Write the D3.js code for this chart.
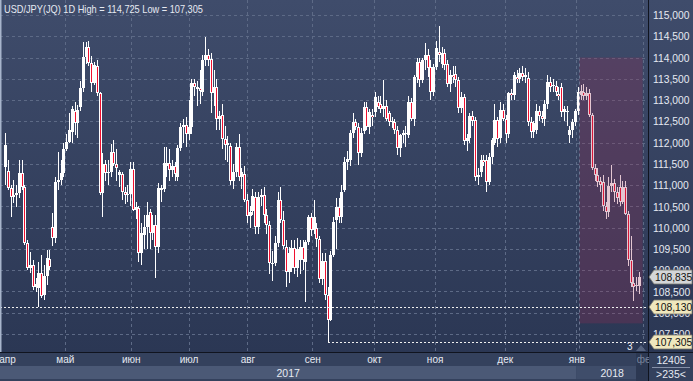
<!DOCTYPE html>
<html><head><meta charset="utf-8">
<script src="https://cdn.jsdelivr.net/npm/d3@7"></script>
<style>html,body{margin:0;padding:0;background:#2e3b57;overflow:hidden}svg{display:block}text{font-family:"Liberation Sans",Arial,sans-serif}</style>
</head><body><svg id="c" width="693" height="381"></svg>
<script>
const open=[111.43,111.33,110.93,110.72,110.77,110.82,111.29,110.96,109.64,109.05,109.12,108.60,108.58,108.93,108.42,108.86,109.26,110.02,109.76,111.07,111.12,111.29,111.85,112.02,112.25,112.74,112.46,112.84,113.28,114.01,114.25,113.87,113.40,113.80,113.17,110.82,111.50,111.28,111.31,111.78,111.50,111.25,111.26,110.84,110.77,110.80,111.38,110.42,110.46,109.40,109.83,110.02,110.37,109.87,110.06,109.55,110.88,110.90,111.45,111.52,111.35,111.45,111.19,111.87,112.37,112.42,112.20,112.36,113.40,113.25,113.28,113.19,113.94,114.06,113.97,113.17,113.31,112.55,112.65,112.09,111.94,111.92,111.10,111.31,111.90,111.20,111.26,110.65,110.27,110.40,110.72,110.02,110.72,110.77,110.30,110.06,109.17,109.17,109.64,110.65,110.18,109.55,108.96,109.05,109.52,109.05,109.24,109.55,109.20,109.66,110.25,109.95,110.00,109.73,108.80,109.22,108.42,107.83,109.36,110.18,110.49,110.25,110.88,111.54,111.59,112.23,112.48,112.37,111.76,112.27,112.83,112.37,112.65,112.72,112.95,112.90,112.78,112.86,112.70,112.48,112.48,112.30,111.87,112.18,112.22,112.18,112.95,112.55,113.54,113.89,113.47,113.94,114.06,113.78,113.19,113.78,114.12,113.85,114.10,113.85,113.37,113.60,113.62,113.47,112.81,113.07,112.04,112.10,112.62,112.53,111.19,111.30,111.60,111.60,111.07,111.65,112.00,112.53,112.10,112.77,112.55,112.20,113.17,113.12,113.55,113.50,113.64,113.55,113.52,112.48,112.25,112.30,112.75,112.62,112.55,112.90,113.42,113.35,113.32,113.15,113.30,112.72,112.72,112.18,112.30,112.48,112.75,113.12,113.20,113.10,113.17,112.64,111.40,111.24,111.10,111.07,110.50,110.38,110.97,111.05,110.85,110.95,110.60,110.95,110.33,109.24,108.70,108.62,108.62];
const high=[112.23,111.59,111.00,111.12,111.00,111.59,111.59,111.00,109.71,109.43,109.24,108.82,109.19,109.36,109.12,109.47,109.47,110.34,111.19,111.78,111.59,112.00,112.20,112.70,112.85,112.95,112.88,113.45,114.37,114.37,114.40,114.03,113.90,113.95,113.20,111.75,111.60,111.60,111.96,112.05,111.85,111.35,111.30,110.95,111.00,111.55,111.55,110.60,110.50,110.10,110.30,110.60,110.45,110.30,110.30,111.05,111.00,111.90,111.90,111.85,111.60,111.55,111.95,112.45,112.55,112.60,113.00,113.50,113.50,113.45,113.70,114.05,114.49,114.20,114.10,113.70,113.50,112.75,112.90,112.40,112.15,112.00,111.50,112.00,112.20,111.40,111.45,110.80,110.50,110.90,110.85,110.85,110.90,110.95,110.45,110.15,109.45,109.80,110.85,110.95,110.40,109.70,109.55,109.70,109.70,109.75,109.70,109.70,109.70,110.30,110.35,110.65,110.10,109.80,109.40,109.40,108.60,109.45,110.25,110.70,110.70,111.00,111.65,111.80,112.30,112.70,112.55,112.45,112.35,112.95,112.95,112.80,112.80,113.20,113.10,113.10,113.47,113.00,112.75,112.60,112.55,112.40,112.20,112.30,112.40,113.10,113.05,113.60,114.00,114.00,114.00,114.35,114.20,113.95,113.85,114.40,114.73,114.25,114.20,113.95,113.70,113.80,113.80,113.55,113.20,113.15,112.20,112.70,112.75,112.60,111.40,111.70,111.70,111.70,111.75,112.10,112.90,112.60,112.95,112.90,112.65,113.20,113.25,113.65,113.70,113.75,113.80,113.75,113.65,112.60,112.50,112.90,112.85,112.75,113.00,113.60,113.55,113.50,113.45,113.30,113.40,112.85,112.85,112.40,112.55,112.80,113.30,113.35,113.38,113.30,113.25,112.70,111.50,111.40,111.20,111.25,110.60,111.20,111.47,111.15,110.95,111.25,111.10,111.10,110.40,109.80,108.85,108.85,108.95];
const low=[111.00,110.89,110.25,110.58,110.49,110.70,110.89,109.59,109.00,108.93,108.53,108.49,108.13,108.35,108.30,108.65,109.00,109.57,109.64,110.89,111.00,111.20,111.80,111.98,112.00,112.18,112.10,112.75,113.20,113.85,113.80,113.20,113.35,113.10,110.77,110.24,111.10,111.00,111.20,111.45,111.10,110.95,110.65,110.55,110.60,110.50,110.40,110.20,109.19,109.12,109.50,109.50,109.50,109.70,108.82,109.40,110.60,110.85,111.20,111.10,111.20,111.10,111.10,111.80,112.00,111.90,112.05,112.20,113.10,112.85,112.90,113.10,113.80,113.80,112.70,112.85,112.30,112.30,111.85,111.60,111.55,111.00,110.90,111.20,111.10,110.90,110.60,110.10,110.00,110.30,109.85,109.85,110.50,110.10,109.85,108.90,108.75,109.10,109.55,110.10,109.50,108.60,108.70,108.95,108.90,108.85,108.90,109.00,108.26,109.60,109.80,109.85,109.55,108.70,108.65,108.30,107.31,107.80,109.30,109.50,110.10,110.10,110.85,111.35,111.45,112.10,112.30,111.47,111.65,112.20,112.30,112.20,112.40,112.60,112.80,112.70,112.60,112.50,112.40,112.35,112.20,111.70,111.65,112.00,111.90,112.10,112.50,112.40,113.40,113.30,113.40,113.70,113.55,113.00,113.10,113.70,113.90,113.75,113.70,113.30,113.20,113.40,113.30,112.70,112.70,111.95,111.80,112.00,112.40,111.10,111.00,111.20,111.45,110.85,111.00,111.50,111.95,111.90,112.00,112.50,111.99,112.10,113.00,113.00,113.40,113.40,113.45,113.40,112.40,112.10,112.10,112.20,112.50,112.45,112.40,112.80,113.20,113.20,113.10,113.00,112.60,112.50,112.40,112.00,112.10,112.40,112.65,113.00,113.00,113.00,112.60,111.35,111.10,110.95,110.85,110.40,110.20,110.25,110.85,110.60,110.55,110.50,110.55,110.30,109.10,108.60,108.28,108.50,108.45];
const close=[111.94,110.93,110.72,110.77,110.82,111.29,110.96,109.64,109.05,109.12,108.60,108.67,108.93,108.39,108.86,109.29,109.08,109.76,111.07,111.12,111.29,111.85,112.02,112.29,112.79,112.46,112.77,113.28,114.01,114.25,113.87,113.40,113.82,113.17,110.82,111.50,111.28,111.31,111.78,111.50,111.40,111.30,110.84,110.77,110.80,111.38,110.42,110.48,109.40,109.87,110.02,110.30,109.87,110.06,109.55,110.93,110.93,111.52,111.52,111.35,111.45,111.27,111.87,112.37,112.42,112.20,112.36,113.40,113.31,113.30,113.22,113.94,114.06,113.95,113.17,113.31,112.55,112.62,112.09,111.94,111.98,111.10,111.31,111.90,111.20,111.30,110.65,110.27,110.37,110.75,110.02,110.72,110.77,110.30,110.06,109.17,109.15,109.64,110.65,110.18,109.57,108.96,109.41,109.52,109.05,109.50,109.55,109.24,109.66,110.25,109.95,110.25,109.73,108.80,109.22,108.42,107.83,109.36,110.13,110.49,110.25,110.84,111.54,111.61,112.23,112.48,112.37,111.76,112.23,112.83,112.37,112.72,112.60,113.07,112.83,112.78,112.86,112.55,112.48,112.50,112.30,111.87,112.18,112.22,112.20,112.95,112.55,113.54,113.89,113.47,113.94,114.06,113.76,113.19,113.78,114.22,114.05,114.10,113.82,113.37,113.60,113.55,113.47,112.81,113.07,112.04,112.10,112.62,112.50,111.19,111.25,111.60,111.55,111.07,111.65,112.06,112.53,112.08,112.77,112.55,112.20,113.17,113.12,113.59,113.50,113.64,113.55,113.58,112.48,112.25,112.45,112.75,112.62,112.55,112.90,113.42,113.30,113.32,113.20,113.10,112.72,112.78,112.75,112.30,112.48,112.75,113.19,113.22,113.10,113.17,112.64,111.40,111.24,111.07,111.00,110.50,110.38,110.97,111.05,110.85,110.70,110.60,110.95,110.33,109.24,108.70,108.60,108.65,108.835];
open[207]=113.12;
const yTicks=[107.5,108,108.5,109,109.5,110,110.5,111,111.5,112,112.5,113,113.5,114,114.5,115];
const monthLabels=["апр","май","июн","июл","авг","сен","окт","ноя","дек","янв","фе"];
const monthTickIdx=[0.7,21.5,45.2,66,87.2,110.5,132.7,154.5,179.7,205.5,229.5];
const yearLabels=["2017","2018"];
const markLevels=[108.130,107.305];
const lastPrice=108.835;
const zoneStart=206.5, zoneEnd=229.3, zoneTop=114.0, zoneBottom=107.75;

const W=693,H=381,PR=648,PB=352;
const svg=d3.select("#c");
const defs=svg.append("defs");
const g1=defs.append("linearGradient").attr("id","bg").attr("x1",0).attr("y1",0).attr("x2",0).attr("y2",1);
g1.append("stop").attr("offset","0").attr("stop-color","#3f4c6b");
g1.append("stop").attr("offset","1").attr("stop-color","#2b3754");
defs.append("clipPath").attr("id","pc").append("rect").attr("x",0).attr("y",0).attr("width",PR).attr("height",PB);

svg.append("rect").attr("width",W).attr("height",H).attr("fill","#2e3b57");
svg.append("rect").attr("x",0).attr("y",0).attr("width",PR).attr("height",PB).attr("fill","url(#bg)");
svg.append("rect").attr("x",PR+1).attr("y",0).attr("width",W-PR-1).attr("height",PB).attr("fill","url(#bg)");

const N=close.length;
const x=d3.scaleLinear().domain([0,N-1]).range([5,639]);
const y=d3.scaleLinear().domain([107.5,115]).range([334,15]);
const fmt=d3.formatLocale({decimal:",",thousands:" ",grouping:[3],currency:["",""]}).format(".3f");
const px=i=>Math.round(x(i));

const plot=svg.append("g").attr("clip-path","url(#pc)");
plot.selectAll("line.h").data(yTicks).join("line")
  .attr("x1",0).attr("x2",PR).attr("y1",d=>Math.round(y(d))+0.5).attr("y2",d=>Math.round(y(d))+0.5)
  .attr("stroke","#5d6a86").attr("stroke-dasharray","3,3");
plot.selectAll("line.v").data(monthTickIdx.slice(1)).join("line")
  .attr("x1",d=>Math.round(x(d))+0.5).attr("x2",d=>Math.round(x(d))+0.5).attr("y1",0).attr("y2",PB)
  .attr("stroke","#5d6a86").attr("stroke-dasharray","3,3");

const idx=d3.range(N);
const cg=plot.append("g").attr("shape-rendering","crispEdges");
cg.selectAll("rect.w").data(idx).join("rect")
  .attr("x",i=>px(i)).attr("width",1)
  .attr("y",i=>Math.round(y(high[i]))).attr("height",i=>Math.max(1,Math.round(y(low[i]))-Math.round(y(high[i]))))
  .attr("fill","#ffffff");
cg.selectAll("rect.b").data(idx).join("rect")
  .attr("x",i=>px(i)-1).attr("width",3)
  .attr("y",i=>Math.round(y(Math.max(open[i],close[i]))))
  .attr("height",i=>Math.max(1,Math.round(y(Math.min(open[i],close[i])))-Math.round(y(Math.max(open[i],close[i])))))
  .attr("fill","#ffffff");
cg.selectAll("rect.r").data(idx.filter(i=>close[i]<open[i] && y(close[i])-y(open[i])>2)).join("rect")
  .attr("x",i=>px(i)).attr("width",1)
  .attr("y",i=>Math.round(y(open[i]))+1)
  .attr("height",i=>Math.max(1,Math.round(y(close[i]))-Math.round(y(open[i]))-2))
  .attr("fill","#f0102f");

plot.append("rect").attr("x",x(zoneStart)).attr("width",x(zoneEnd)-x(zoneStart))
  .attr("y",y(zoneTop)).attr("height",y(zoneBottom)-y(zoneTop))
  .attr("fill","rgba(150,45,85,0.27)");
plot.append("line").attr("x1",Math.round(x(zoneStart))+0.5).attr("x2",Math.round(x(zoneStart))+0.5).attr("y1",y(zoneTop)).attr("y2",PB)
  .attr("stroke","#6a7590").attr("stroke-dasharray","3,3");

plot.append("line").attr("x1",0).attr("x2",PR).attr("y1",Math.round(y(markLevels[0]))+0.5).attr("y2",Math.round(y(markLevels[0]))+0.5)
  .attr("stroke","#f0f0f0").attr("stroke-dasharray","2,2");
plot.append("line").attr("x1",px(116)).attr("x2",PR).attr("y1",Math.round(y(markLevels[1]))+0.5).attr("y2",Math.round(y(markLevels[1]))+0.5)
  .attr("stroke","#f0f0f0").attr("stroke-dasharray","2,2");
plot.append("text").attr("x",627).attr("y",350).attr("fill","#e8ecf4").attr("font-size",10).text("3");
plot.append("path").attr("d","M636,351 L641,345 L646,351 Z").attr("fill","#56637f");

svg.append("rect").attr("x",0).attr("y",0).attr("width",1.5).attr("height",PB).attr("fill","#a8b5cc");
svg.append("line").attr("x1",PR+0.5).attr("x2",PR+0.5).attr("y1",0).attr("y2",H).attr("stroke","#10141f");

svg.append("text").attr("x",4).attr("y",13).attr("fill","#e6eaf2").attr("font-size",10.5)
  .attr("textLength",199).attr("lengthAdjust","spacingAndGlyphs")
  .text("USD/JPY(JQ) 1D High = 114,725 Low = 107,305");

const ya=d3.axisRight(y).tickValues(yTicks).tickFormat(fmt).tickSize(0).tickPadding(0);
const yg=svg.append("g").attr("transform",`translate(653,0)`).call(ya);
yg.select(".domain").remove();
yg.selectAll("text").attr("fill","#e6eaf2").attr("font-size",10.3).attr("font-family","Liberation Sans,Arial,sans-serif").attr("dy","0.35em");

function tag(v,fill){
  const yy=Math.round(y(v));
  const gg=svg.append("g");
  gg.append("path").attr("d",`M649,${yy} L654,${yy-7} L692,${yy-7} L692,${yy+7} L654,${yy+7} Z`)
    .attr("fill",fill).attr("stroke","#7a7a70").attr("stroke-width",0.8);
  gg.append("text").attr("x",655).attr("y",yy+4).attr("fill","#111").attr("font-size",10.3).text(fmt(v));
}
tag(lastPrice,"#d4d6d8");
tag(markLevels[0],"#efe7bd");
tag(markLevels[1],"#efe7bd");

svg.append("rect").attr("x",0).attr("y",PB).attr("width",PR).attr("height",H-PB).attr("fill","#34415d");
svg.append("line").attr("x1",0).attr("x2",W).attr("y1",PB+0.5).attr("y2",PB+0.5).attr("stroke","#10141f");
const janX=x(monthTickIdx[9]);
svg.append("rect").attr("x",0).attr("y",366).attr("width",janX).attr("height",13).attr("fill","#4b5976");
svg.append("rect").attr("x",janX).attr("y",366).attr("width",636-janX).attr("height",13).attr("fill","#3f4d6a");
svg.append("rect").attr("x",636).attr("y",PB+1).attr("width",PR-636).attr("height",H-PB-1).attr("fill","#2c3852");
const xa=d3.axisBottom(x).tickValues(monthTickIdx).tickFormat((d,i)=>monthLabels[i]).tickSize(0).tickPadding(0);
const xg=svg.append("g").attr("transform",`translate(0,356)`).call(xa);
xg.select(".domain").remove();
xg.selectAll("text").attr("fill","#e6eaf2").attr("font-size",10).attr("font-family","Liberation Sans,Arial,sans-serif").attr("dy","0.71em");
xg.selectAll("text").filter((d,i)=>i===10).attr("fill","#7a859c");
svg.append("text").attr("x",janX/2).attr("y",377).attr("text-anchor","middle").attr("fill","#e6eaf2").attr("font-size",10.5).text(yearLabels[0]);
svg.append("text").attr("x",(janX+636)/2+6).attr("y",377).attr("text-anchor","middle").attr("fill","#e6eaf2").attr("font-size",10.5).text(yearLabels[1]);

svg.append("rect").attr("x",PR+1).attr("y",PB+1).attr("width",W-PR-1).attr("height",H-PB-1).attr("fill","#34415d");
svg.append("line").attr("x1",652).attr("x2",690).attr("y1",367.5).attr("y2",367.5).attr("stroke","#8590a8");
svg.append("text").attr("x",671).attr("y",364).attr("text-anchor","middle").attr("fill","#e6eaf2").attr("font-size",10.5).text("12405");
svg.append("text").attr("x",671).attr("y",378).attr("text-anchor","middle").attr("fill","#e6eaf2").attr("font-size",10.5).text(">235<");
</script></body></html>
